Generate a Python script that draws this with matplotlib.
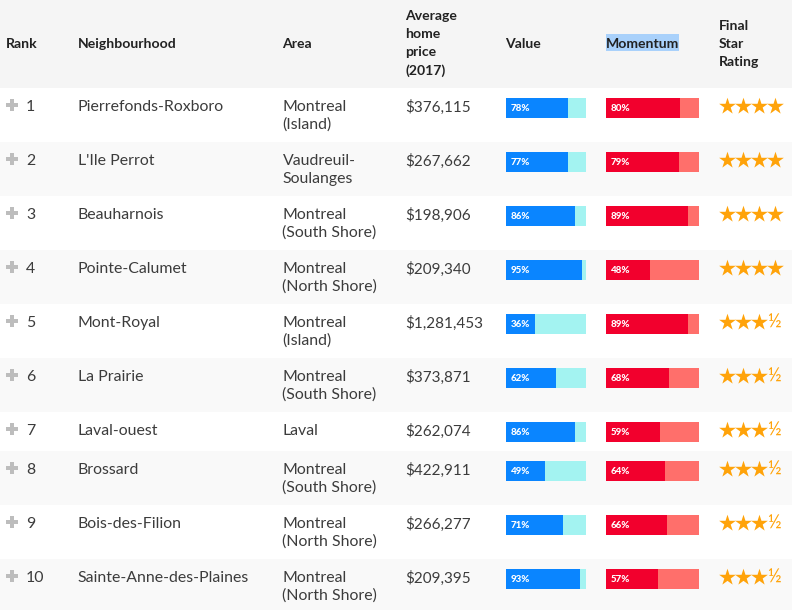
import matplotlib
matplotlib.use('Agg')
import matplotlib.pyplot as plt

ranks = [1, 2, 3, 4, 5, 6, 7, 8, 9, 10]
neighbourhoods = ['Pierrefonds-Roxboro', "L'Ile Perrot", 'Beauharnois', 'Pointe-Calumet', 'Mont-Royal',
                  'La Prairie', 'Laval-ouest', 'Brossard', 'Bois-des-Filion', 'Sainte-Anne-des-Plaines']
areas = ['Montreal\n(Island)', 'Vaudreuil-\nSoulanges', 'Montreal\n(South Shore)', 'Montreal\n(North Shore)',
         'Montreal\n(Island)', 'Montreal\n(South Shore)', 'Laval', 'Montreal\n(South Shore)',
         'Montreal\n(North Shore)', 'Montreal\n(North Shore)']
prices = ['$376,115', '$267,662', '$198,906', '$209,340', '$1,281,453',
          '$373,871', '$262,074', '$422,911', '$266,277', '$209,395']
value = [78, 77, 86, 95, 36, 62, 86, 49, 71, 93]
momentum = [80, 79, 89, 48, 89, 68, 59, 64, 66, 57]
stars = [4, 4, 4, 4, 3.5, 3.5, 3.5, 3.5, 3.5, 3.5]
row_tops = [88, 142, 196, 250, 304, 358, 412, 451, 505, 559]
row_bottoms = row_tops[1:] + [610]

FONT = 'Lato'
DARK = '#222222'
TEXT = '#3c3c3c'
ORANGE = '#ffa30a'
BODY = 11.4

fig = plt.figure(figsize=(7.92, 6.10), dpi=100)
ax = fig.add_axes([0, 0, 1, 1])
ax.set_xlim(0, 792)
ax.set_ylim(610, 0)
ax.axis('off')

# backgrounds
ax.axhspan(0, 88, color='#f5f5f5', lw=0)
for i in range(len(ranks)):
    if i % 2 == 1:
        ax.axhspan(row_tops[i], row_bottoms[i], color='#f9f9f9', lw=0)

# header
ax.axhspan(34, 51, xmin=606 / 792, xmax=679 / 792, color='#a9d1fb', lw=0)
def head(x, y, s):
    ax.text(x - 0.5, y + 0.5, s, fontsize=10.1, fontweight='bold', color=DARK, family=FONT, va='center', ha='left')

head(6, 43, 'Rank')
head(78, 43, 'Neighbourhood')
head(283, 43, 'Area')
for y, s in zip([16, 34, 52, 70], ['Average', 'home', 'price', '(2017)']):
    head(406, y, s)
head(506, 43, 'Value')
head(606, 43, 'Momentum')
for y, s in zip([25, 43, 61], ['Final', 'Star', 'Rating']):
    head(719, y, s)

for i in range(len(ranks)):
    top = row_tops[i]
    y = top + 19
    ax.scatter([12], [top + 17], marker='P', s=75, color='#bdbdbd', linewidths=0)
    ax.text(26, y, str(ranks[i]), fontsize=BODY, color=TEXT, family=FONT, va='center')
    ax.text(77.5, y, neighbourhoods[i], fontsize=BODY, color=TEXT, family=FONT, va='center')
    for j, line in enumerate(areas[i].split('\n')):
        ax.text(282.5, y + 18 * j, line, fontsize=BODY, color=TEXT, family=FONT, va='center')
    ax.text(405.5, y, prices[i], fontsize=11, color=TEXT, family=FONT, va='center')

    # value bar, 80 px track
    ax.barh(top + 20, 80, left=506, height=20, color='#a3f3f1', lw=0)
    ax.barh(top + 20, value[i] / 100 * 80, left=506, height=20, color='#0a85ff', lw=0)
    ax.text(511, top + 20.5, f'{value[i]}%', fontsize=7, fontweight='black', color='white', family=FONT, va='center')

    # momentum bar, 93 px track
    ax.barh(top + 20, 93, left=606, height=20, color='#ff6f6b', lw=0)
    ax.barh(top + 20, momentum[i] / 100 * 92, left=606, height=20, color='#f2002d', lw=0)
    ax.text(611, top + 20.5, f'{momentum[i]}%', fontsize=7, fontweight='black', color='white', family=FONT, va='center')

    # stars
    whole = int(stars[i])
    ax.scatter([727 + 16 * k for k in range(whole)], [top + 18] * whole, marker='*', s=160,
               color=ORANGE, linewidths=0)
    if stars[i] - whole > 0:
        ax.text(767, top + 18.5, '½', fontsize=13.5, color=ORANGE, family=FONT, va='center')

fig.savefig('out.png', dpi=100)
